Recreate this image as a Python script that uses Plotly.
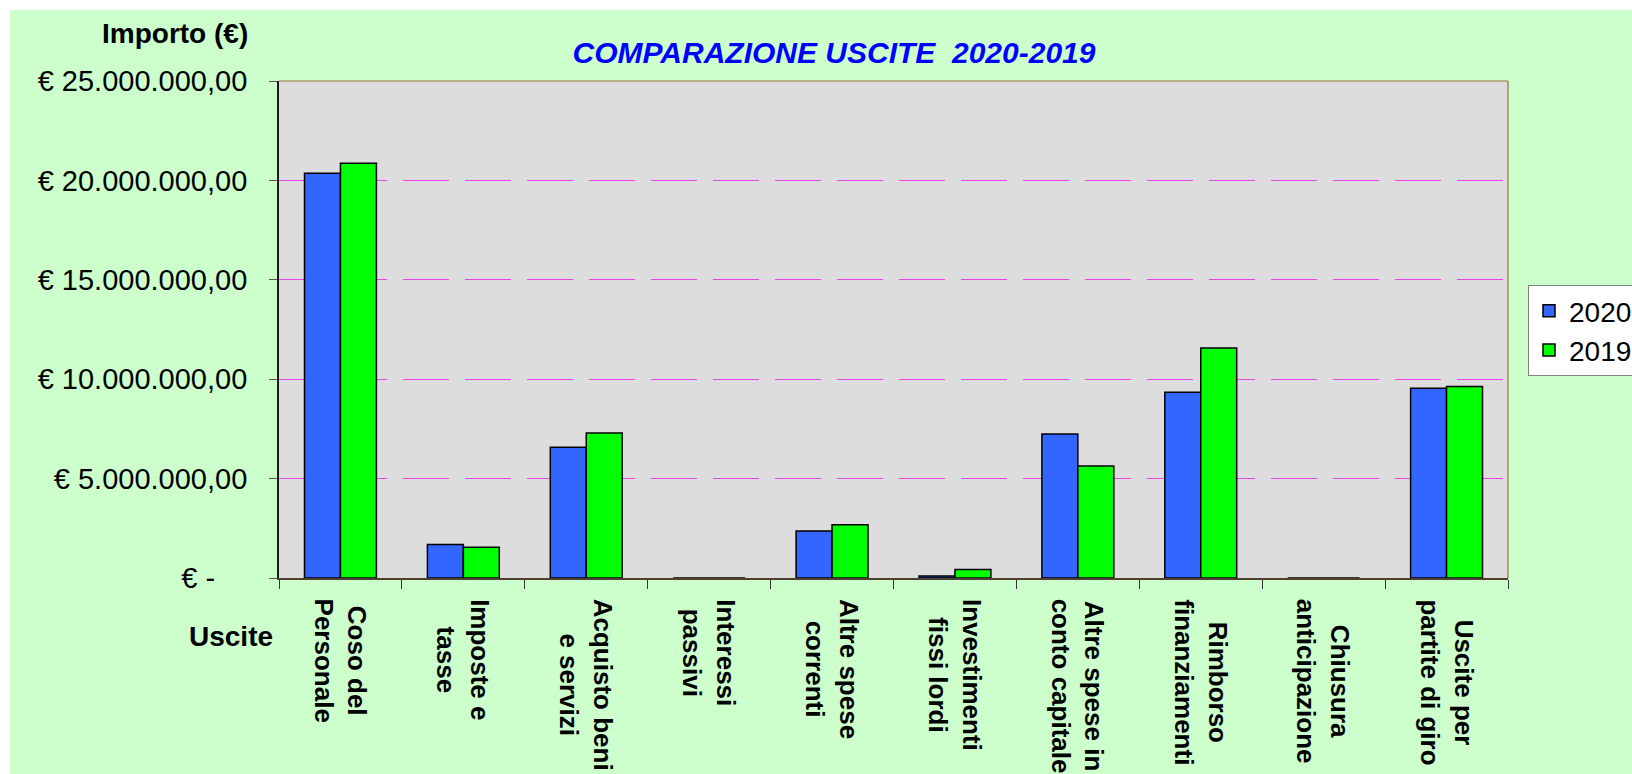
import plotly.graph_objects as go

# ---- data ----
categories = [
    "Coso del<br>Personale",
    "Imposte e<br>tasse",
    "Acquisto beni<br>e servizi",
    "Interessi<br>passivi",
    "Altre spese<br>correnti",
    "Investimenti<br>fissi lordi",
    "Altre spese in<br>conto capitale",
    "Rimborso<br>finanziamenti",
    "Chiusura<br>anticipazione",
    "Uscite per<br>partite di giro",
]
values_2020 = [20.36e6, 1.68e6, 6.58e6, 0, 2.37e6, 0.10e6, 7.24e6, 9.34e6, 0, 9.55e6]
values_2019 = [20.86e6, 1.55e6, 7.30e6, 0, 2.68e6, 0.43e6, 5.64e6, 11.57e6, 0, 9.63e6]
series_names = ["2020", "2019"]
y_tick_values = [0, 5e6, 10e6, 15e6, 20e6, 25e6]
y_tick_labels = ["€ -", "€ 5.000.000,00", "€ 10.000.000,00",
                 "€ 15.000.000,00", "€ 20.000.000,00", "€ 25.000.000,00"]
title_text = "COMPARAZIONE USCITE\u00a0 2020-2019"
y_title = "Importo (€)"
x_title = "Uscite"

FONT = "Liberation Sans, Arial, sans-serif"
W, H = 1632, 774
L, R, T, B = 279, 124, 81, 196
PW, PH = W - L - R, H - T - B


def px_x(x):  # page pixel -> paper x
    return (x - L) / PW


def px_y(y):  # page pixel -> paper y
    return (H - B - y) / PH


# accounting-style padding of the tick texts (the "€ -" label sits further left)
pad = "\u00a0\u00a0"
y_tick_text = [t + pad + ("\u00a0\u00a0\u00a0\u00a0" if t.endswith("-") else "")
               for t in y_tick_labels]

fig = go.Figure()
fig.add_trace(go.Bar(x=categories, y=values_2020, name=series_names[0], legendgroup="a",
                     marker=dict(color="#3366FF", line=dict(color="#000000", width=1.5))))
fig.add_trace(go.Bar(x=categories, y=values_2019, name=series_names[1], legendgroup="b",
                     marker=dict(color="#00FF00", line=dict(color="#000000", width=1.5))))

annotations = []
for c in categories:
    annotations.append(dict(
        x=c, xref="x", y=0, yref="paper", yanchor="top", xanchor="center",
        yshift=-19, text="<b>" + c + "</b>", textangle=90, align="center",
        showarrow=False, font=dict(family=FONT, size=26, color="#000000")))
annotations.append(dict(
    x=px_x(250), xref="paper", y=px_y(34), yref="paper",
    xanchor="right", yanchor="middle", text="<b>" + y_title + "</b>",
    showarrow=False, font=dict(family=FONT, size=28, color="#000000")))
annotations.append(dict(
    x=px_x(231), xref="paper", y=px_y(636), yref="paper",
    xanchor="center", yanchor="middle", text="<b>" + x_title + "</b>",
    showarrow=False, font=dict(family=FONT, size=28, color="#000000")))

shapes = [
    # white strips along the top and left edge of the picture
    dict(type="rect", xref="paper", yref="paper", x0=px_x(0), x1=px_x(W),
         y0=px_y(10), y1=px_y(-2), fillcolor="#FFFFFF", line=dict(width=0)),
    dict(type="rect", xref="paper", yref="paper", x0=px_x(-2), x1=px_x(10),
         y0=px_y(H + 2), y1=px_y(-2), fillcolor="#FFFFFF", line=dict(width=0)),
    # top and right frame lines
    dict(type="line", xref="paper", yref="paper", x0=0, x1=1, y0=1, y1=1,
         line=dict(color="#A0703A", width=1.2)),
    dict(type="line", xref="paper", yref="paper", x0=1, x1=1, y0=0, y1=1,
         line=dict(color="#A0703A", width=1.2)),
]

fig.update_layout(
    width=W, height=H,
    margin=dict(l=L, r=R, t=T, b=B, autoexpand=False),
    paper_bgcolor="#CCFFCC",
    plot_bgcolor="#DDDDDD",
    barmode="group", bargap=0.415, bargroupgap=0,
    title=dict(text="<b><i>" + title_text + "</i></b>", x=834 / W, xanchor="center",
               y=1 - 52 / H, yanchor="middle", xref="container", yref="container",
               font=dict(family=FONT, size=30, color="#0000FF")),
    font=dict(family=FONT, size=28, color="#000000"),
    legend=dict(x=px_x(1528), xanchor="left", y=px_y(285), yanchor="top",
                bgcolor="#FFFFFF", bordercolor="#808080", borderwidth=1,
                font=dict(family=FONT, size=28, color="#000000"),
                traceorder="normal", tracegroupgap=8),
    annotations=annotations,
    shapes=shapes,
    showlegend=True,
)
fig.update_xaxes(
    type="category", showticklabels=False, showgrid=False,
    ticks="outside", ticklen=9, tickwidth=1.2, tickcolor="#333333", tickson="boundaries",
    showline=True, linecolor="#4D4030", linewidth=2, zeroline=False,
)
fig.update_yaxes(
    range=[0, 25e6], tickvals=y_tick_values, ticktext=y_tick_text,
    ticks="outside", ticklen=8, tickwidth=1.2, tickcolor="#555555",
    tickfont=dict(family=FONT, size=29, color="#000000"),
    showline=True, linecolor="#1A1A1A", linewidth=1.5,
    showgrid=True, gridcolor="#E844E8", gridwidth=1, griddash="46px,16px",
    zeroline=False,
)

fig.write_html("out.html", config={"displayModeBar": False},
               post_script="document.body.style.margin='0px';")
